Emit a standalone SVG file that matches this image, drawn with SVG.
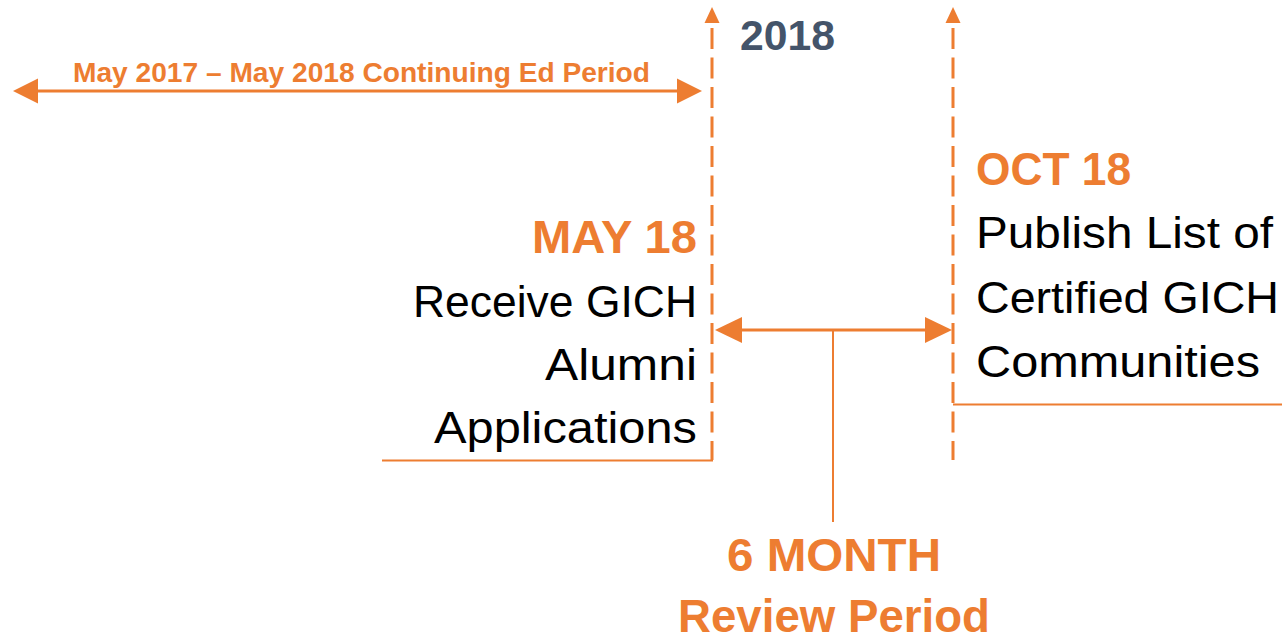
<svg xmlns="http://www.w3.org/2000/svg" width="1286" height="641" viewBox="0 0 1286 641">
<style>
.o{fill:#ED7D31}
.b{font-family:"Liberation Sans",Arial,sans-serif;font-weight:bold}
.r{font-family:"Liberation Sans",Arial,sans-serif;font-size:44px;fill:#000}
.dash{stroke:#ED7D31;stroke-width:3;stroke-dasharray:21 8.5;fill:none}
.thin{stroke:#ED7D31;stroke-width:2;fill:none}
.thick{stroke:#ED7D31;stroke-width:3;fill:none}
</style>
<rect width="1286" height="641" fill="#fff"/>
<g id="connectors">
  <line class="dash" x1="712" y1="28" x2="712" y2="460"/>
  <polygon class="o" points="712,7 704.5,23 719.5,23"/>
  <line class="dash" x1="953" y1="28" x2="953" y2="460"/>
  <polygon class="o" points="953,7 945.5,23 960.5,23"/>
  <polyline class="thin" points="382,460.5 712,460.5 712,455"/>
  <line class="thin" x1="953" y1="404.5" x2="1282" y2="404.5"/>
  <line class="thick" x1="36" y1="91" x2="680" y2="91"/>
  <polygon class="o" points="13,91 38,78.5 38,103.5"/>
  <polygon class="o" points="702,91 677,78.5 677,103.5"/>
  <line class="thick" x1="740" y1="330" x2="927" y2="330"/>
  <polygon class="o" points="715,330 742,317 742,343"/>
  <polygon class="o" points="952,330 925,317 925,343"/>
  <line class="thin" x1="833" y1="330" x2="833" y2="522"/>
</g>
<g id="period">
  <text class="b o" x="361.5" y="82" font-size="28" text-anchor="middle" textLength="577" lengthAdjust="spacingAndGlyphs">May 2017 – May 2018 Continuing Ed Period</text>
</g>
<g id="year">
  <text class="b" x="740" y="50" font-size="43" fill="#44546A" textLength="95" lengthAdjust="spacingAndGlyphs">2018</text>
</g>
<g id="may18">
  <text class="b o" x="697" y="253" font-size="46" text-anchor="end" textLength="165" lengthAdjust="spacingAndGlyphs">MAY 18</text>
  <text class="r" x="697" y="317" text-anchor="end" textLength="284" lengthAdjust="spacingAndGlyphs">Receive GICH</text>
  <text class="r" x="697" y="380" text-anchor="end" textLength="152" lengthAdjust="spacingAndGlyphs">Alumni</text>
  <text class="r" x="697" y="443" text-anchor="end" textLength="263" lengthAdjust="spacingAndGlyphs">Applications</text>
</g>
<g id="oct18">
  <text class="b o" x="976" y="185" font-size="46" textLength="155" lengthAdjust="spacingAndGlyphs">OCT 18</text>
  <text class="r" x="976" y="248" textLength="297" lengthAdjust="spacingAndGlyphs">Publish List of</text>
  <text class="r" x="976" y="313" textLength="303" lengthAdjust="spacingAndGlyphs">Certified GICH</text>
  <text class="r" x="976" y="377" textLength="284" lengthAdjust="spacingAndGlyphs">Communities</text>
</g>
<g id="review">
  <text class="b o" x="834" y="571" font-size="47" text-anchor="middle" textLength="214" lengthAdjust="spacingAndGlyphs">6 MONTH</text>
  <text class="b o" x="834" y="632" font-size="47" text-anchor="middle" textLength="312" lengthAdjust="spacingAndGlyphs">Review Period</text>
</g>
</svg>
